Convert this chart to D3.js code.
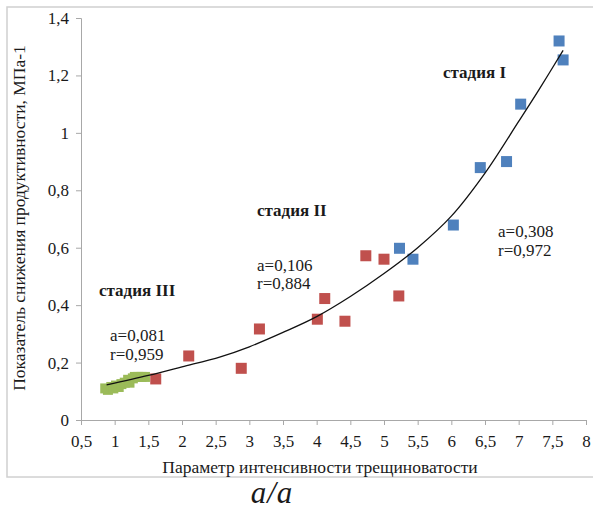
<!DOCTYPE html>
<html>
<head>
<meta charset="utf-8">
<script src="https://cdn.jsdelivr.net/npm/d3@7"></script>
<style>
  body { margin: 0; background: #fff; }
  svg text { font-family: "Times New Roman", "Liberation Serif", "DejaVu Serif", serif !important; fill: #1a1a1a; }
</style>
</head>
<body>
<script>
// stage I (blue)
const stage1X = [7.60, 7.66, 7.03, 6.82, 6.43, 6.03, 5.23, 5.43];
const stage1Y = [1.32, 1.254, 1.10, 0.90, 0.879, 0.679, 0.598, 0.56];
// stage II (red)
const stage2X = [1.61, 2.10, 2.88, 3.15, 4.01, 4.12, 4.42, 4.73, 5.00, 5.22];
const stage2Y = [0.143, 0.223, 0.18, 0.317, 0.351, 0.423, 0.344, 0.572, 0.56, 0.432];
// stage III (green)
const stage3X = [0.86, 0.90, 0.95, 0.98, 1.02, 1.06, 1.10, 1.15, 1.20, 1.22, 1.27, 1.30, 1.35, 1.40, 1.45];
const stage3Y = [0.11, 0.105, 0.115, 0.11, 0.12, 0.115, 0.125, 0.13, 0.14, 0.13, 0.145, 0.15, 0.15, 0.15, 0.15];
// trend line
const trendX = [0.88, 1.5, 2.0, 2.57, 3.0, 3.5, 4.0, 4.5, 5.0, 5.5, 6.0, 6.5, 7.0, 7.3, 7.66];
const trendY = [0.122, 0.155, 0.185, 0.22, 0.255, 0.305, 0.36, 0.43, 0.51, 0.60, 0.71, 0.86, 1.04, 1.15, 1.287];

const xTicks = [0.5, 1, 1.5, 2, 2.5, 3, 3.5, 4, 4.5, 5, 5.5, 6, 6.5, 7, 7.5, 8];
const yTicks = [0, 0.2, 0.4, 0.6, 0.8, 1, 1.2, 1.4];

const width = 593;
const height = 509;
const fmt = d => String(d).replace('.', ',');

const svg = d3.select('body').append('svg')
    .attr('width', width)
    .attr('height', height);

// outer frame
svg.append('rect')
    .attr('x', 7).attr('y', 7)
    .attr('width', 600).attr('height', 470)
    .attr('fill', 'none')
    .attr('stroke', '#d0d0d0')
    .attr('stroke-width', 1.5);

const x = d3.scaleLinear().domain([0.5, 8]).range([81, 586]);
const y = d3.scaleLinear().domain([0, 1.4]).range([420, 18]);

const xAxis = svg.append('g')
    .attr('transform', `translate(0,${y(0)})`)
    .call(d3.axisBottom(x).tickValues(xTicks).tickFormat(fmt).tickSize(5).tickPadding(10));

const yAxis = svg.append('g')
    .attr('transform', `translate(${x(0.5)},0)`)
    .call(d3.axisLeft(y).tickValues(yTicks).tickFormat(fmt).tickSize(5).tickPadding(7));

[xAxis, yAxis].forEach(g => {
    g.select('.domain').attr('stroke', '#a8a8a8');
    g.selectAll('.tick line').attr('stroke', '#a8a8a8');
    g.selectAll('.tick text')
        .attr('font-size', 17)
        .attr('fill', '#1a1a1a');
});

// markers
function drawSeries(xs, ys, color, size) {
    svg.append('g').selectAll('rect')
        .data(xs.map((d, i) => [d, ys[i]]))
        .enter()
        .append('rect')
        .attr('x', d => x(d[0]) - size / 2)
        .attr('y', d => y(d[1]) - size / 2)
        .attr('width', size)
        .attr('height', size)
        .attr('fill', color);
}
drawSeries(stage3X, stage3Y, '#9bbb59', 10);
drawSeries(stage2X, stage2Y, '#c0504d', 11);
drawSeries(stage1X, stage1Y, '#4f81bd', 11);

// trend line
const line = d3.line()
    .x(d => x(d[0]))
    .y(d => y(d[1]))
    .curve(d3.curveCatmullRom);

svg.append('path')
    .datum(trendX.map((d, i) => [d, trendY[i]]))
    .attr('d', line)
    .attr('fill', 'none')
    .attr('stroke', '#111')
    .attr('stroke-width', 1.3);

// annotations
const labels = [
    { t: 'стадия I', x: 443, y: 78, bold: true },
    { t: 'стадия II', x: 257, y: 216, bold: true },
    { t: 'стадия III', x: 99, y: 296, bold: true },
    { t: 'a=0,308', x: 498, y: 237 },
    { t: 'r=0,972', x: 498, y: 256 },
    { t: 'a=0,106', x: 257, y: 271 },
    { t: 'r=0,884', x: 257, y: 289 },
    { t: 'a=0,081', x: 110, y: 341 },
    { t: 'r=0,959', x: 110, y: 360 }
];
svg.append('g').selectAll('text')
    .data(labels)
    .enter()
    .append('text')
    .attr('x', d => d.x)
    .attr('y', d => d.y)
    .attr('font-size', 17)
    .attr('font-weight', d => d.bold ? 'bold' : 'normal')
    .text(d => d.t);

// axis titles
svg.append('text')
    .attr('transform', 'translate(25,218) rotate(-90)')
    .attr('text-anchor', 'middle')
    .attr('font-size', 17.5)
    .text('Показатель снижения продуктивности, МПа-1');

svg.append('text')
    .attr('x', 320)
    .attr('y', 473)
    .attr('text-anchor', 'middle')
    .attr('font-size', 17.5)
    .text('Параметр интенсивности трещиноватости');

svg.append('text')
    .attr('x', 272)
    .attr('y', 503)
    .attr('text-anchor', 'middle')
    .attr('font-size', 31)
    .attr('font-style', 'italic')
    .attr('letter-spacing', 1)
    .text('a/a');
</script>
</body>
</html>
